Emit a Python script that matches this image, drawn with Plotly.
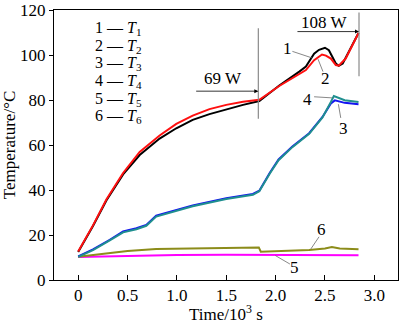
import plotly.graph_objects as go

# ---- data (time in 10^3 s, temperature in °C) ----
t1_x = [0, 0.15, 0.287, 0.455, 0.623, 0.825, 0.994, 1.16, 1.33, 1.5, 1.67, 1.835, 2.037, 2.24, 2.307, 2.39, 2.44, 2.50, 2.54, 2.61, 2.64, 2.68, 2.74, 2.84]
t1_y = [12.5, 24.0, 35.5, 47.0, 55.6, 62.9, 67.5, 71.2, 73.8, 76.0, 77.9, 79.6, 86.5, 92.7, 94.9, 100.7, 102.4, 103.3, 102.2, 96.3, 95.3, 96.3, 101.4, 109.9]

t2_x = [0, 0.15, 0.287, 0.455, 0.623, 0.825, 0.994, 1.16, 1.33, 1.5, 1.67, 1.835, 2.037, 2.24, 2.307, 2.39, 2.47, 2.51, 2.56, 2.61, 2.64, 2.71, 2.84]
t2_y = [12.7, 24.3, 35.9, 47.6, 57.0, 64.3, 69.4, 73.1, 76.0, 77.9, 79.3, 80.2, 86.3, 91.5, 93.4, 97.8, 100.3, 99.8, 98.5, 95.6, 95.3, 98.5, 109.9]

t3_x = [0, 0.15, 0.32, 0.455, 0.59, 0.69, 0.79, 0.89, 1.16, 1.5, 1.77, 1.835, 1.94, 2.03, 2.17, 2.34, 2.475, 2.56, 2.6, 2.7, 2.84]
t3_y = [10.5, 13.6, 17.9, 21.6, 23.0, 24.5, 28.6, 29.9, 33.2, 36.4, 38.3, 39.7, 47.6, 53.6, 59.4, 65.3, 72.5, 78.5, 79.9, 78.8, 78.2]

t4_x = [0, 0.15, 0.32, 0.455, 0.59, 0.69, 0.79, 0.89, 1.16, 1.5, 1.77, 1.835, 1.94, 2.03, 2.17, 2.34, 2.475, 2.56, 2.59, 2.7, 2.84]
t4_y = [10.3, 13.3, 17.6, 21.2, 22.6, 24.1, 28.2, 29.5, 32.8, 36.0, 37.9, 39.5, 47.3, 53.3, 59.1, 65.0, 72.3, 79.2, 81.8, 80.0, 79.2]

t5_x = [0, 0.5, 1.0, 1.5, 2.0, 2.5, 2.84]
t5_y = [10.2, 10.8, 11.1, 11.2, 11.2, 11.1, 11.0]

t6_x = [0, 0.32, 0.5, 0.79, 1.16, 1.5, 1.83, 1.85, 2.0, 2.34, 2.5, 2.57, 2.65, 2.84]
t6_y = [10.3, 11.9, 12.9, 13.8, 14.1, 14.3, 14.5, 12.6, 12.8, 13.4, 14.0, 14.7, 14.0, 13.7]

x_tickvals = [0, 0.5, 1.0, 1.5, 2.0, 2.5, 3.0]
x_ticktext = ["0", "0.5", "1.0", "1.5", "2.0", "2.5", "3.0"]
y_tickvals = [0, 20, 40, 60, 80, 100, 120]

legend_labels = ["1", "2", "3", "4", "5", "6"]
power_labels = ["69 W", "108 W"]
power_times = [1.825, 2.845]

FONT = "Liberation Serif"

fig = go.Figure()
series = [
    (t5_x, t5_y, "#ff00ff", "T5"),
    (t6_x, t6_y, "#8c8c1a", "T6"),
    (t3_x, t3_y, "#1414f0", "T3"),
    (t4_x, t4_y, "#1f8f8f", "T4"),
    (t1_x, t1_y, "#000000", "T1"),
    (t2_x, t2_y, "#ff1010", "T2"),
]
for xs, ys, c, n in series:
    fig.add_trace(go.Scatter(x=xs, y=ys, mode="lines", name=n,
                             line=dict(color=c, width=2), showlegend=False))

# power-change markers (vertical gray lines)
fig.add_shape(type="line", x0=power_times[0], x1=power_times[0], y0=71.7, y1=112,
              line=dict(color="#8a8a8a", width=1.2))
fig.add_shape(type="line", x0=power_times[1], x1=power_times[1], y0=90.6, y1=119,
              line=dict(color="#8a8a8a", width=1.2))

# arrows
fig.add_annotation(x=power_times[0], y=84, ax=1.18, ay=84, axref="x", ayref="y",
                   xref="x", yref="y", text="", showarrow=True, arrowhead=2,
                   arrowsize=1, arrowwidth=0.8, arrowcolor="#000")
fig.add_annotation(x=power_times[1], y=110.5, ax=2.206, ay=110.5, axref="x", ayref="y",
                   xref="x", yref="y", text="", showarrow=True, arrowhead=2,
                   arrowsize=1, arrowwidth=0.8, arrowcolor="#000")
fig.add_annotation(x=1.47, y=89.8, text=power_labels[0], showarrow=False,
                   font=dict(family=FONT, size=17, color="#000"))
fig.add_annotation(x=2.49, y=114.5, text=power_labels[1], showarrow=False,
                   font=dict(family=FONT, size=17, color="#000"))

# curve labels with leader lines
leaders = [
    ("1", 2.118, 102.9, 2.17, 101.7, 2.368, 98.8),
    ("2", 2.509, 89.5, 2.48, 92.7, 2.43, 98.2),
    ("4", 2.323, 80.3, 2.39, 81.5, 2.576, 81.0),
    ("3", 2.684, 67.5, 2.66, 72.1, 2.636, 78.2),
    ("6", 2.468, 22.4, 2.44, 19.2, 2.357, 13.8),
    ("5", 2.19, 5.4, 2.145, 7.1, 1.997, 10.9),
]
for lab, lx, ly, x0, y0, x1, y1 in leaders:
    fig.add_shape(type="line", x0=x0, y0=y0, x1=x1, y1=y1,
                  line=dict(color="#6a6a6a", width=0.8))
    fig.add_annotation(x=lx, y=ly, text=lab, showarrow=False,
                       font=dict(family=FONT, size=17, color="#000"))

# legend text block
leg_y = [111.9, 104.0, 96.2, 88.3, 80.5, 72.6]
for lab, yy in zip(legend_labels, leg_y):
    fig.add_annotation(x=0.148, y=yy, xanchor="left", yanchor="middle",
                       text=f"{lab} — <i>T</i><sub>{lab}</sub>", showarrow=False,
                       font=dict(family=FONT, size=16, color="#000"))

fig.update_layout(
    width=400, height=324,
    margin=dict(l=54, r=1, t=7, b=42),
    paper_bgcolor="white", plot_bgcolor="white",
    font=dict(family=FONT, size=17, color="#000"),
    xaxis=dict(range=[-0.245, 3.24], tickvals=x_tickvals, ticktext=x_ticktext,
               ticks="inside", ticklen=5, tickcolor="#000", showline=True,
               linecolor="#000", linewidth=1, mirror=True, showgrid=False,
               zeroline=False, title=dict(text="Time/10<sup>3</sup> s", standoff=6,
                                          font=dict(family=FONT, size=17)),
               tickfont=dict(family=FONT, size=17), ticklabeloverflow="allow"),
    yaxis=dict(range=[0, 120.1], tickvals=y_tickvals,
               ticks="outside", ticklen=4, tickcolor="#000", showline=True,
               linecolor="#000", linewidth=1, mirror=True, showgrid=False,
               zeroline=False, title=dict(text="Temperature/°C", standoff=4,
                                          font=dict(family=FONT, size=17)),
               tickfont=dict(family=FONT, size=17), ticklabeloverflow="allow"),
)

fig.write_html("out.html")
